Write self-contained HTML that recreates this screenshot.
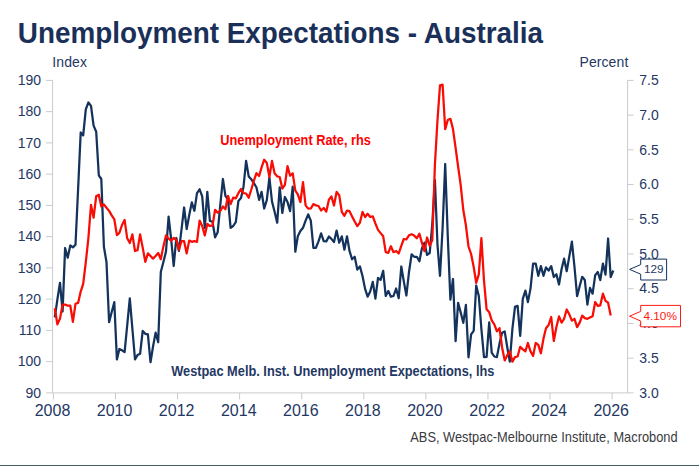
<!DOCTYPE html>
<html><head><meta charset="utf-8"><title>Unemployment Expectations - Australia</title>
<style>
html,body{margin:0;padding:0;background:#fff;}
body{width:699px;height:466px;overflow:hidden;position:relative;font-family:"Liberation Sans",sans-serif;}
svg{position:absolute;left:0;top:0;display:block;font-family:"Liberation Sans",sans-serif;}
#bar{position:absolute;left:0;top:464.6px;width:699px;height:2px;background:#44606a;}
</style></head><body>
<svg width="699" height="466" viewBox="0 0 699 466">
<g stroke="#cacaca" stroke-width="1" fill="none">
<line x1="52.6" y1="80.4" x2="52.6" y2="392.9"/>
<line x1="627.6" y1="80.4" x2="627.6" y2="392.9"/>
<line x1="52.6" y1="392.9" x2="627.6" y2="392.9"/>
<line x1="46.1" y1="80.40" x2="52.6" y2="80.40"/>
<line x1="46.1" y1="111.65" x2="52.6" y2="111.65"/>
<line x1="46.1" y1="142.90" x2="52.6" y2="142.90"/>
<line x1="46.1" y1="174.15" x2="52.6" y2="174.15"/>
<line x1="46.1" y1="205.40" x2="52.6" y2="205.40"/>
<line x1="46.1" y1="236.65" x2="52.6" y2="236.65"/>
<line x1="46.1" y1="267.90" x2="52.6" y2="267.90"/>
<line x1="46.1" y1="299.15" x2="52.6" y2="299.15"/>
<line x1="46.1" y1="330.40" x2="52.6" y2="330.40"/>
<line x1="46.1" y1="361.65" x2="52.6" y2="361.65"/>
<line x1="46.1" y1="392.90" x2="52.6" y2="392.90"/>
<line x1="627.6" y1="80.40" x2="633.6" y2="80.40"/>
<line x1="627.6" y1="115.12" x2="633.6" y2="115.12"/>
<line x1="627.6" y1="149.84" x2="633.6" y2="149.84"/>
<line x1="627.6" y1="184.57" x2="633.6" y2="184.57"/>
<line x1="627.6" y1="219.29" x2="633.6" y2="219.29"/>
<line x1="627.6" y1="254.01" x2="633.6" y2="254.01"/>
<line x1="627.6" y1="288.73" x2="633.6" y2="288.73"/>
<line x1="627.6" y1="323.46" x2="633.6" y2="323.46"/>
<line x1="627.6" y1="358.18" x2="633.6" y2="358.18"/>
<line x1="627.6" y1="392.90" x2="633.6" y2="392.90"/>
<line x1="53.40" y1="392.9" x2="53.40" y2="399.4"/>
<line x1="115.48" y1="392.9" x2="115.48" y2="399.4"/>
<line x1="177.56" y1="392.9" x2="177.56" y2="399.4"/>
<line x1="239.64" y1="392.9" x2="239.64" y2="399.4"/>
<line x1="301.72" y1="392.9" x2="301.72" y2="399.4"/>
<line x1="363.80" y1="392.9" x2="363.80" y2="399.4"/>
<line x1="425.88" y1="392.9" x2="425.88" y2="399.4"/>
<line x1="487.96" y1="392.9" x2="487.96" y2="399.4"/>
<line x1="550.04" y1="392.9" x2="550.04" y2="399.4"/>
<line x1="612.12" y1="392.9" x2="612.12" y2="399.4"/>
</g>
<g fill="#1f3864" font-size="14px">
<text x="41.0" y="85.10" text-anchor="end">190</text>
<text x="41.0" y="116.35" text-anchor="end">180</text>
<text x="41.0" y="147.60" text-anchor="end">170</text>
<text x="41.0" y="178.85" text-anchor="end">160</text>
<text x="41.0" y="210.10" text-anchor="end">150</text>
<text x="41.0" y="241.35" text-anchor="end">140</text>
<text x="41.0" y="272.60" text-anchor="end">130</text>
<text x="41.0" y="303.85" text-anchor="end">120</text>
<text x="41.0" y="335.10" text-anchor="end">110</text>
<text x="41.0" y="366.35" text-anchor="end">100</text>
<text x="41.0" y="397.60" text-anchor="end">90</text>
<text x="639.3" y="85.10">7.5</text>
<text x="639.3" y="119.82">7.0</text>
<text x="639.3" y="154.54">6.5</text>
<text x="639.3" y="189.27">6.0</text>
<text x="639.3" y="223.99">5.5</text>
<text x="639.3" y="258.71">5.0</text>
<text x="639.3" y="293.43">4.5</text>
<text x="639.3" y="328.16">4.0</text>
<text x="639.3" y="362.88">3.5</text>
<text x="639.3" y="397.60">3.0</text>
</g>
<g fill="#1f3864" font-size="16px" text-anchor="middle">
<text x="52.50" y="415.8">2008</text>
<text x="114.58" y="415.8">2010</text>
<text x="176.66" y="415.8">2012</text>
<text x="238.74" y="415.8">2014</text>
<text x="300.82" y="415.8">2016</text>
<text x="362.90" y="415.8">2018</text>
<text x="424.98" y="415.8">2020</text>
<text x="487.06" y="415.8">2022</text>
<text x="549.14" y="415.8">2024</text>
<text x="611.22" y="415.8">2026</text>
</g>
<path d="M54.8,317.3 L57.4,299.3 L60.0,282.8 L62.6,311.5 L65.1,248.0 L67.7,257.7 L70.3,245.5 L72.9,247.4 L75.5,244.8 L78.1,189.3 L80.7,132.5 L83.2,135.4 L85.8,109.3 L88.4,102.5 L91.0,105.9 L93.6,125.6 L96.2,131.7 L98.8,175.3 L101.3,179.0 L103.9,246.7 L106.5,262.2 L109.1,322.2 L111.7,312.0 L114.3,302.2 L116.9,359.4 L119.4,349.0 L122.0,350.3 L124.6,352.1 L127.2,325.3 L129.8,298.4 L132.4,329.0 L135.0,359.4 L137.5,355.1 L140.1,353.8 L142.7,330.9 L145.3,333.8 L147.9,334.4 L150.5,362.2 L153.0,346.7 L155.6,332.6 L158.2,342.1 L160.8,272.0 L163.4,262.0 L166.0,251.5 L168.6,216.7 L171.1,238.6 L173.7,266.0 L176.3,238.0 L178.9,250.9 L181.5,229.6 L184.1,207.5 L186.7,229.0 L189.2,215.3 L191.8,202.4 L194.4,210.8 L197.0,193.2 L199.6,189.3 L202.2,196.4 L204.8,228.0 L207.3,191.9 L209.9,221.0 L212.5,221.7 L215.1,237.3 L217.7,232.2 L220.3,204.8 L222.9,179.0 L225.4,195.8 L228.0,199.6 L230.6,227.9 L233.2,226.0 L235.8,222.1 L238.4,200.9 L241.0,198.0 L243.5,187.0 L246.1,160.9 L248.7,176.4 L251.3,179.3 L253.9,183.2 L256.5,187.5 L259.1,199.8 L261.6,191.8 L264.2,208.5 L266.8,200.2 L269.4,177.7 L272.0,201.5 L274.6,211.7 L277.2,222.7 L279.7,187.3 L282.3,213.0 L284.9,197.0 L287.5,202.1 L290.1,211.1 L292.7,186.7 L295.3,251.7 L297.8,236.2 L300.4,231.0 L303.0,227.8 L305.6,220.7 L308.2,214.3 L310.8,220.7 L313.4,247.8 L315.9,247.8 L318.5,241.3 L321.1,233.4 L323.7,241.1 L326.3,241.4 L328.9,236.5 L331.4,238.9 L334.0,242.1 L336.6,230.6 L339.2,242.7 L341.8,236.3 L344.4,249.7 L347.0,236.3 L349.5,250.9 L352.1,259.3 L354.7,256.7 L357.3,269.6 L359.9,266.4 L362.5,276.0 L365.1,288.9 L367.6,296.7 L370.2,291.5 L372.8,281.8 L375.4,298.6 L378.0,278.0 L380.6,279.9 L383.2,270.9 L385.7,296.0 L388.3,290.9 L390.9,296.7 L393.5,296.0 L396.1,288.5 L398.7,298.1 L401.3,266.5 L403.8,281.4 L406.4,295.5 L409.0,272.0 L411.6,254.3 L414.2,256.8 L416.8,256.8 L419.4,261.3 L421.9,248.5 L424.5,242.7 L427.1,254.9 L429.7,253.0 L432.3,224.0 L434.9,180.0 L437.5,245.0 L440.0,275.8 L442.6,228.0 L445.2,164.0 L447.8,237.0 L450.4,299.6 L453.0,279.0 L455.6,341.2 L458.1,302.8 L460.7,312.5 L463.3,322.8 L465.9,304.8 L468.5,357.3 L471.1,334.4 L473.7,330.8 L476.2,285.5 L478.8,296.0 L481.4,329.0 L484.0,357.2 L486.6,356.8 L489.2,322.4 L491.7,352.6 L494.3,356.5 L496.9,357.1 L499.5,343.6 L502.1,332.7 L504.7,331.4 L507.3,347.5 L509.8,361.6 L512.4,328.8 L515.0,306.8 L517.6,305.8 L520.2,335.9 L522.8,298.9 L525.4,290.6 L527.9,302.1 L530.5,288.6 L533.1,263.5 L535.7,263.5 L538.3,275.8 L540.9,266.1 L543.5,275.8 L546.0,267.4 L548.6,270.6 L551.2,266.1 L553.8,277.0 L556.4,274.2 L559.0,284.5 L561.6,269.0 L564.1,258.7 L566.7,271.2 L569.3,256.4 L571.9,241.7 L574.5,267.0 L577.1,296.2 L579.7,286.0 L582.2,276.8 L584.8,280.0 L587.4,304.6 L590.0,287.9 L592.6,293.7 L595.2,275.1 L597.8,272.0 L600.3,280.2 L602.9,263.6 L605.5,274.6 L608.1,238.5 L610.7,277.1 L613.3,270.5" fill="none" stroke="#13325c" stroke-width="2.25" stroke-linejoin="round" stroke-linecap="butt"/>
<path d="M54.8,308.3 L57.4,324.4 L60.0,318.6 L62.6,304.5 L65.1,304.5 L67.7,305.7 L70.3,305.7 L72.9,321.8 L75.5,303.8 L78.1,302.9 L80.7,291.6 L83.2,283.9 L85.8,262.2 L88.4,238.0 L91.0,204.8 L93.6,217.7 L96.2,196.2 L98.8,194.8 L101.3,206.4 L103.9,204.5 L106.5,207.7 L109.1,210.9 L111.7,215.4 L114.3,219.3 L116.9,235.1 L119.4,232.8 L122.0,225.0 L124.6,219.9 L127.2,238.3 L129.8,243.0 L132.4,234.4 L135.0,251.0 L137.5,250.2 L140.1,234.4 L142.7,247.6 L145.3,261.8 L147.9,253.4 L150.5,256.0 L153.0,258.6 L155.6,256.0 L158.2,253.0 L160.8,259.2 L163.4,246.4 L166.0,235.4 L168.6,238.6 L171.1,240.6 L173.7,238.0 L176.3,239.9 L178.9,249.6 L181.5,241.2 L184.1,241.2 L186.7,253.4 L189.2,240.6 L191.8,241.8 L194.4,241.2 L197.0,241.8 L199.6,220.6 L202.2,226.0 L204.8,235.4 L207.3,224.0 L209.9,226.0 L212.5,225.6 L215.1,209.8 L217.7,212.7 L220.3,210.8 L222.9,206.5 L225.4,209.2 L228.0,195.8 L230.6,204.1 L233.2,197.7 L235.8,198.3 L238.4,193.2 L241.0,189.0 L243.5,193.2 L246.1,193.5 L248.7,197.7 L251.3,189.5 L253.9,180.5 L256.5,173.2 L259.1,176.0 L261.6,167.4 L264.2,159.7 L266.8,162.9 L269.4,177.0 L272.0,160.9 L274.6,173.2 L277.2,176.4 L279.7,177.0 L282.3,188.6 L284.9,184.8 L287.5,166.1 L290.1,175.7 L292.7,173.2 L295.3,190.6 L297.8,194.4 L300.4,202.1 L303.0,182.2 L305.6,205.4 L308.2,208.6 L310.8,208.5 L313.4,204.1 L315.9,205.4 L318.5,206.0 L321.1,210.5 L323.7,208.0 L326.3,211.5 L328.9,199.7 L331.4,196.4 L334.0,205.5 L336.6,191.9 L339.2,195.2 L341.8,211.9 L344.4,215.8 L347.0,210.6 L349.5,211.2 L352.1,216.4 L354.7,221.5 L357.3,226.1 L359.9,222.8 L362.5,211.9 L365.1,217.0 L367.6,213.8 L370.2,217.0 L372.8,216.4 L375.4,223.5 L378.0,229.9 L380.6,233.1 L383.2,236.3 L385.7,252.2 L388.3,252.9 L390.9,246.2 L393.5,252.2 L396.1,251.0 L398.7,253.5 L401.3,245.8 L403.8,239.0 L406.4,239.3 L409.0,235.4 L411.6,234.3 L414.2,235.6 L416.8,238.2 L419.4,233.7 L421.9,242.7 L424.5,251.1 L427.1,237.5 L429.7,245.9 L432.3,240.1 L434.9,165.0 L437.5,120.0 L440.0,85.3 L442.6,84.7 L445.2,129.1 L447.8,120.0 L450.4,118.8 L453.0,129.1 L455.6,147.9 L458.1,166.5 L460.7,185.2 L463.3,210.0 L465.9,225.3 L468.5,246.5 L471.1,254.0 L473.7,267.0 L476.2,282.8 L478.8,274.3 L481.4,238.2 L484.0,280.7 L486.6,309.3 L489.2,312.2 L491.7,320.4 L494.3,324.3 L496.9,331.4 L499.5,328.2 L502.1,347.5 L504.7,360.4 L507.3,355.2 L509.8,351.3 L512.4,361.6 L515.0,357.1 L517.6,356.5 L520.2,346.8 L522.8,349.4 L525.4,351.3 L527.9,343.0 L530.5,351.3 L533.1,355.9 L535.7,343.0 L538.3,344.9 L540.9,353.3 L543.5,338.5 L546.0,328.2 L548.6,325.0 L551.2,317.0 L553.8,341.0 L556.4,327.0 L559.0,316.4 L561.6,322.6 L564.1,318.8 L566.7,309.5 L569.3,314.3 L571.9,320.7 L574.5,318.8 L577.1,327.1 L579.7,322.6 L582.2,315.6 L584.8,318.1 L587.4,318.8 L590.0,317.5 L592.6,316.2 L595.2,302.0 L597.8,305.9 L600.3,305.3 L602.9,293.7 L605.5,300.8 L608.1,302.7 L610.7,315.5" fill="none" stroke="#f80c04" stroke-width="2.25" stroke-linejoin="round" stroke-linecap="butt"/>
<path d="M629.6,269.4 L640.7,264.6 L640.7,259.1 L666.6,259.1 L666.6,280 L640.7,280 L640.7,274.2 Z" fill="#fff" stroke="#13325c" stroke-width="1"/>
<text x="653.8" y="273" font-size="11.8px" fill="#1f3864" text-anchor="middle">129</text>
<path d="M629.6,316.2 L640.7,311.4 L640.7,305.4 L680.5,305.4 L680.5,326.8 L640.7,326.8 L640.7,321 Z" fill="#fff" stroke="#ff1a10" stroke-width="1"/>
<text x="660.2" y="319.8" font-size="11.8px" fill="#ff1a10" text-anchor="middle">4.10%</text>
<text transform="translate(17.8,42.9) scale(0.9745,1)" font-size="28.6px" font-weight="bold" fill="#1a3059">Unemployment Expectations - Australia</text>
<text x="52.3" y="66.9" font-size="14px" letter-spacing="0.1" fill="#1f3864">Index</text>
<text x="628.4" y="67.0" font-size="14px" letter-spacing="0.1" fill="#1f3864" text-anchor="end">Percent</text>
<text transform="translate(220.3,145.1) scale(0.914,1)" font-size="14px" font-weight="bold" fill="#ff0000">Unemployment Rate, rhs</text>
<text transform="translate(171.2,375.7) scale(0.914,1)" font-size="14px" font-weight="bold" fill="#1f3864">Westpac Melb. Inst. Unemployment Expectations, lhs</text>
<text transform="translate(677.6,441.8) scale(0.918,1)" font-size="14px" fill="#3a3a3e" text-anchor="end">ABS, Westpac-Melbourne Institute, Macrobond</text>
</svg>
<div id="bar"></div>
</body></html>
